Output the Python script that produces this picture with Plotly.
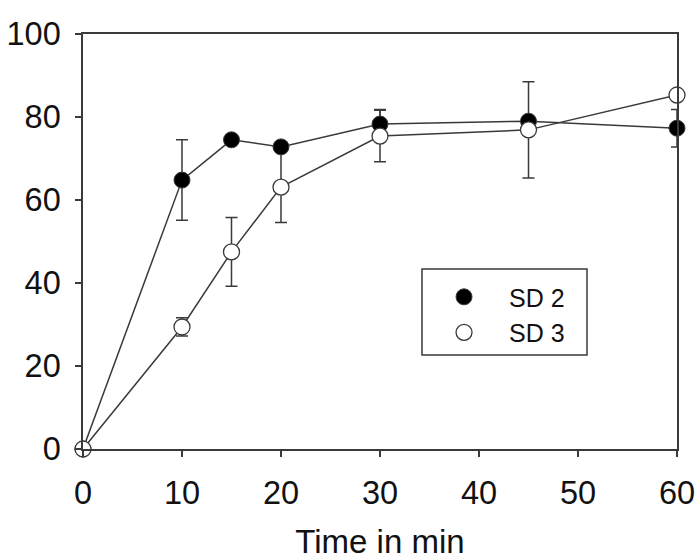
import plotly.graph_objects as go

time = [0, 10, 15, 20, 30, 45, 60]
sd2 = [0, 64.8, 74.5, 72.8, 78.3, 79.0, 77.3]
sd2_err = [0, 9.7, 1.0, 1.0, 3.5, 1.0, 4.5]
sd3 = [0, 29.4, 47.5, 63.1, 75.4, 76.9, 85.3]
sd3_err = [0, 2.2, 8.3, 8.5, 6.2, 11.6, 1.0]

LINE = "#3a3a3a"
FONT = "Liberation Sans, Arial, sans-serif"

fig = go.Figure()
for y, e in [(sd2, sd2_err), (sd3, sd3_err)]:
    fig.add_trace(go.Scatter(
        x=time, y=y, mode="lines", showlegend=False, cliponaxis=False,
        line=dict(color=LINE, width=1.5),
        error_y=dict(type="data", array=e, visible=True, color=LINE, thickness=1.5, width=6),
    ))
fig.add_trace(go.Scatter(
    x=time, y=sd2, mode="markers", name="SD 2", cliponaxis=False,
    marker=dict(symbol="circle", size=16, color="black", line=dict(color=LINE, width=1)),
))
fig.add_trace(go.Scatter(
    x=time, y=sd3, mode="markers", name="SD 3", cliponaxis=False,
    marker=dict(symbol="circle", size=16, color="white", line=dict(color=LINE, width=1.3)),
))

axis_common = dict(
    showgrid=False, zeroline=False, showline=True, linecolor=LINE, linewidth=1.5,
    mirror=True, ticks="outside", ticklen=6, tickwidth=1.5, tickcolor=LINE,
    tickfont=dict(family=FONT, size=32.5, color="#111"), automargin=False,
    ticklabeloverflow="allow",
)
fig.update_xaxes(range=[0, 60], dtick=10, tick0=0, ticklabelstandoff=8,
                 title=dict(text="Time in min", font=dict(family=FONT, size=33, color="#111"), standoff=20),
                 **axis_common)
fig.update_yaxes(range=[0, 100], dtick=20, tick0=0, ticklabelstandoff=8, **axis_common)

# legend frame
fig.add_shape(type="rect", xref="paper", yref="paper",
              x0=0.5707, x1=0.8485, y0=0.2265, y1=0.4337,
              line=dict(color=LINE, width=1.5), fillcolor="white", layer="below")

fig.update_layout(
    width=700, height=560,
    margin=dict(l=83, r=23, t=34, b=111),
    plot_bgcolor="white", paper_bgcolor="white",
    legend=dict(x=0.5657, y=0.4215, xanchor="left", yanchor="top",
                borderwidth=0, bgcolor="rgba(0,0,0,0)",
                font=dict(family=FONT, size=25, color="#111"),
                itemwidth=80, tracegroupgap=0),
)
fig.write_html("out.html", config={"displayModeBar": False},
               post_script="document.body.style.margin='0';document.body.style.overflow='hidden';")
